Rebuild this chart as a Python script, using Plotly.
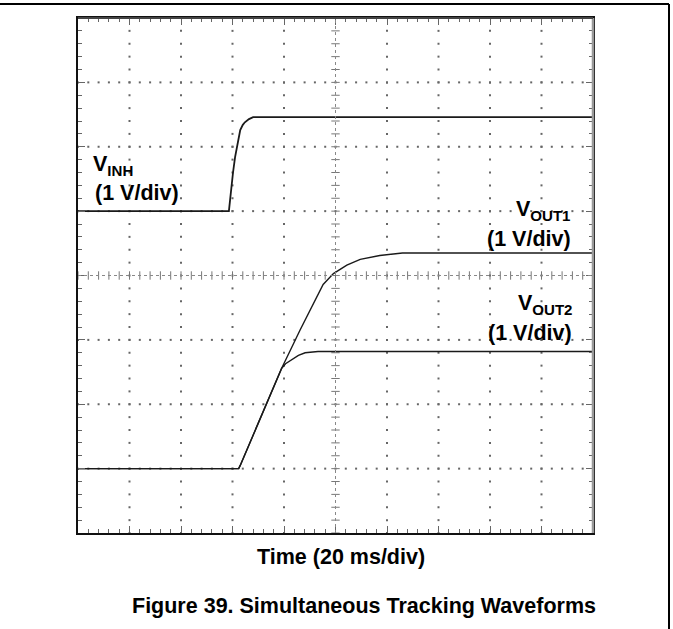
import numpy as np
import plotly.graph_objects as go

# Oscilloscope capture: time in ms (20 ms/div, 10 div), amplitude in screen divisions (8 div)
vinh_t = [0, 58.6, 59.0, 59.4, 60.2, 61.0, 62.0, 63.0, 64.0, 64.8, 66.4, 68.0, 200]
vinh_v = [5.0, 5.0, 5.15, 5.33, 5.6, 5.84, 6.08, 6.26, 6.34, 6.38, 6.43, 6.46, 6.46]

vout1_t = [0, 62.4, 63.0, 79.1, 86.2, 88.8, 92.0, 95.2, 99.2, 104.4, 109.6, 117.2, 126.0, 200]
vout1_v = [1.0, 1.0, 1.05, 2.56, 3.15, 3.36, 3.62, 3.86, 4.03, 4.16, 4.25, 4.31, 4.35, 4.35]

vout2_t = [0, 62.4, 63.0, 79.1, 80.6, 83.0, 85.6, 88.2, 93.2, 200]
vout2_v = [1.0, 1.0, 1.05, 2.56, 2.63, 2.69, 2.76, 2.80, 2.82, 2.82]

X_DIV, Y_DIV = 10, 8
MS_PER_DIV = 20
FONT = "Liberation Sans, Arial, Helvetica, sans-serif"

# plot area in pixels
L, R, T, B = 78, 593, 18, 533
W, H = 673, 629


def px(x):
    return (x - L) / (R - L)


def py(y):
    return (B - y) / (B - T)


fig = go.Figure()

# graticule dots along the major division lines
gx, gy = [], []
minor_x = np.arange(0, X_DIV * MS_PER_DIV + 0.01, MS_PER_DIV / 5)
minor_y = np.arange(0, Y_DIV + 0.001, 0.2)
for k in range(1, X_DIV):
    if k == X_DIV // 2:
        continue
    gx += [k * MS_PER_DIV] * len(minor_y)
    gy += list(minor_y)
for j in range(1, Y_DIV):
    if j == Y_DIV // 2:
        continue
    gx += list(minor_x)
    gy += [j] * len(minor_x)
fig.add_trace(go.Scatter(x=gx, y=gy, mode="markers", hoverinfo="skip",
                         marker=dict(symbol="square", size=2, color="#666", line=dict(width=0)),
                         showlegend=False))

# center cross with tick marks
cx = X_DIV * MS_PER_DIV / 2
cy = Y_DIV / 2
fig.add_trace(go.Scatter(x=minor_x, y=[cy] * len(minor_x), mode="markers", hoverinfo="skip",
                         marker=dict(symbol="line-ns", size=6, line=dict(width=1, color="#777")),
                         showlegend=False))
fig.add_trace(go.Scatter(x=[cx] * len(minor_y), y=minor_y, mode="markers", hoverinfo="skip",
                         marker=dict(symbol="line-ew", size=6, line=dict(width=1, color="#777")),
                         showlegend=False))

# waveforms
for t, v, w in [(vout1_t, vout1_v, 1.4), (vout2_t, vout2_v, 1.4), (vinh_t, vinh_v, 1.8)]:
    fig.add_trace(go.Scatter(x=t, y=v, mode="lines", hoverinfo="skip",
                             line=dict(color="#1a1a1a", width=w),
                             showlegend=False))

axis_common = dict(showgrid=False, zeroline=False, showticklabels=False,
                   ticks="inside", ticklen=7, tickcolor="#666", tickwidth=1,
                   mirror="allticks", showline=True, linecolor="#111", linewidth=1.5)
fig.update_xaxes(range=[0, X_DIV * MS_PER_DIV], dtick=MS_PER_DIV, tick0=0,
                 minor=dict(dtick=MS_PER_DIV / 5, ticklen=4, tickcolor="#666", ticks="inside"),
                 **axis_common)
fig.update_yaxes(range=[0, Y_DIV], dtick=1, tick0=0,
                 minor=dict(dtick=0.2, ticklen=4, tickcolor="#666", ticks="inside"),
                 **axis_common)

shapes = [
    # center dotted lines
    dict(type="line", xref="x", yref="y", x0=0, x1=X_DIV * MS_PER_DIV, y0=cy, y1=cy,
         line=dict(color="#888", width=1, dash="dot")),
    dict(type="line", xref="x", yref="y", x0=cx, x1=cx, y0=0, y1=Y_DIV,
         line=dict(color="#888", width=1, dash="dot")),
    # plot borders
    dict(type="line", xref="paper", yref="paper", x0=1, x1=1, y0=0, y1=1,
         line=dict(color="#999", width=2.5)),
    dict(type="line", xref="paper", yref="paper", x0=0, x1=1, y0=1, y1=1,
         line=dict(color="#444", width=2)),
    # outer frame
    dict(type="line", xref="paper", yref="paper", x0=px(0), x1=px(669), y0=py(4), y1=py(4),
         line=dict(color="black", width=2)),
    dict(type="line", xref="paper", yref="paper", x0=px(669), x1=px(669), y0=py(4), y1=py(629),
         line=dict(color="black", width=2)),
]

def label(text, x, y, xanchor, size=21.5):
    return dict(text=text, xref="paper", yref="paper", x=px(x), y=py(y),
                xanchor=xanchor, yanchor="middle", showarrow=False,
                font=dict(family=FONT, size=size, color="black", weight="bold"))

annotations = [
    label("V<sub>INH</sub>", 91, 165, "left"),
    label("(1 V/div)", 93, 193, "left"),
    label("V<sub>OUT1</sub>", 572, 210, "right"),
    label("(1 V/div)", 573, 239, "right"),
    label("V<sub>OUT2</sub>", 574, 304, "right"),
    label("(1 V/div)", 574, 333, "right"),
    label("Time (20 ms/div)", 341, 557, "center"),
    label("Figure 39. Simultaneous Tracking Waveforms", 364, 606, "center"),
]

fig.update_layout(width=W, height=H, margin=dict(l=L, r=W - R, t=T, b=H - B),
                  paper_bgcolor="white", plot_bgcolor="white",
                  shapes=shapes, annotations=annotations)

fig.write_html("out.html")
